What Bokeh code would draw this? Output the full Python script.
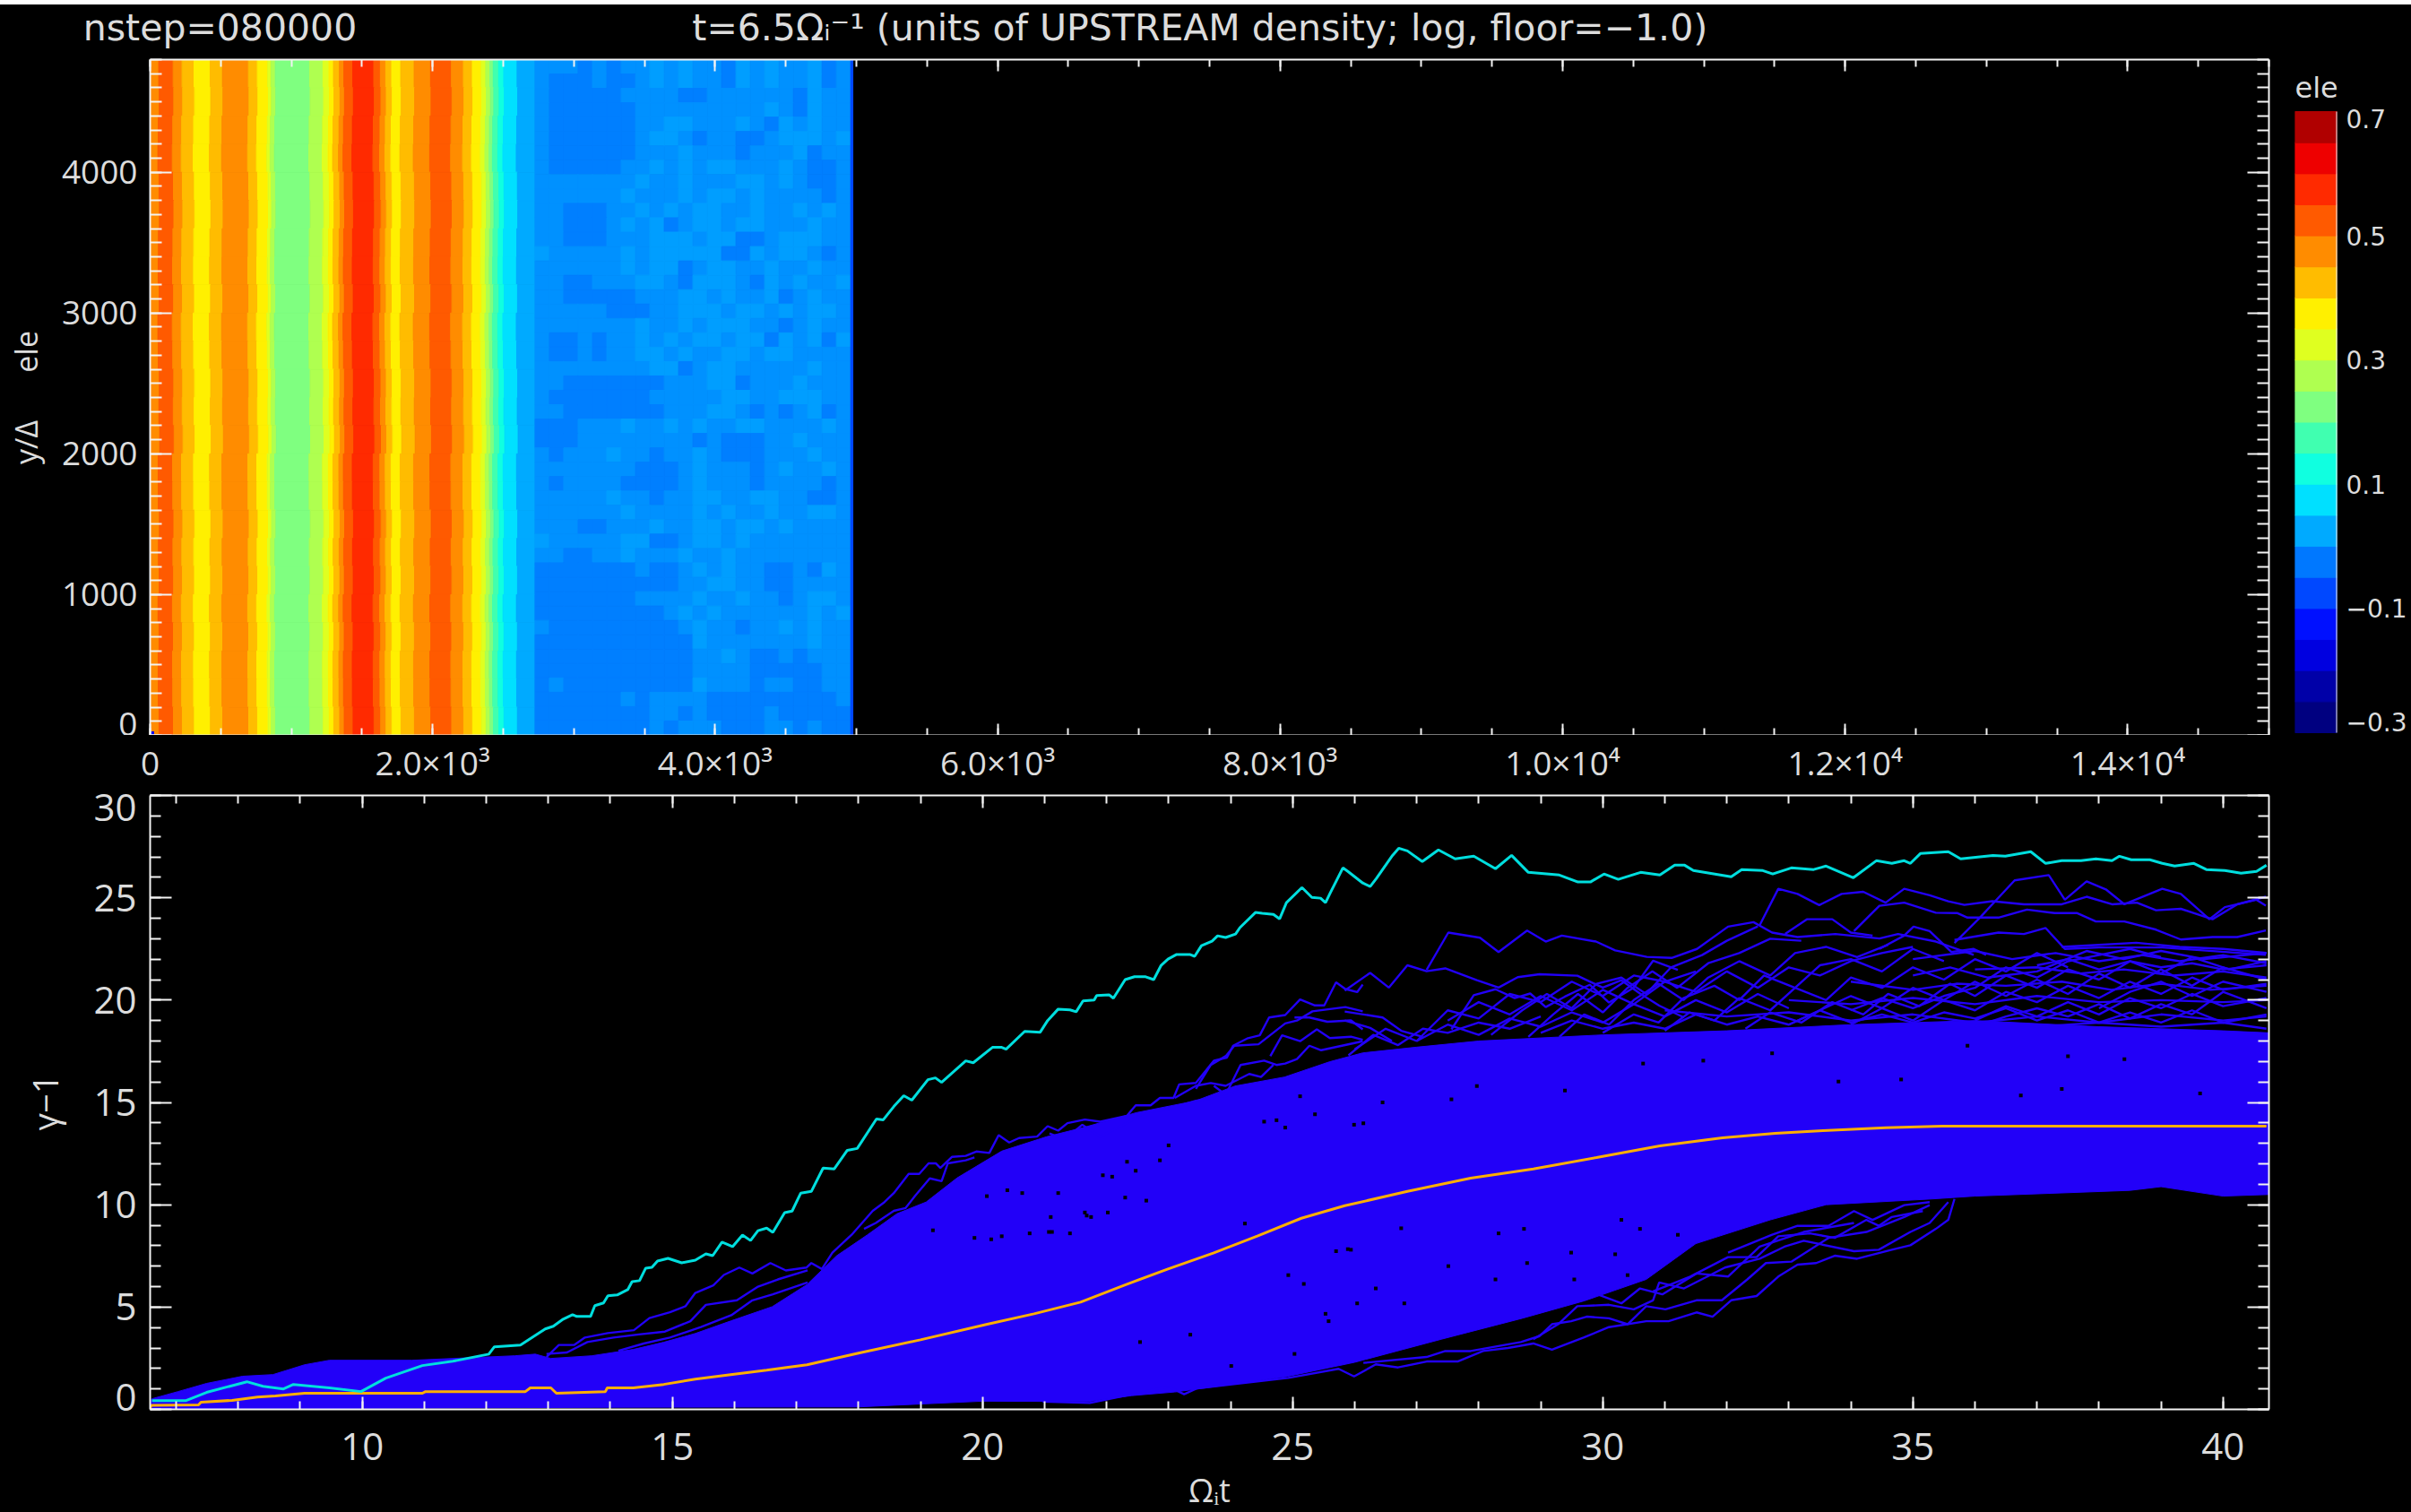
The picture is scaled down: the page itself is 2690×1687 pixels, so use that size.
from bokeh.plotting import figure
from bokeh.layouts import column, row
from bokeh.models import Range1d, LinearAxis, FixedTicker, Label, ColumnDataSource
from bokeh.embed import file_html
from bokeh.resources import INLINE

# ---------- colour table (bottom to top of the colour bar) ----------
cbar_edges = [-0.30,-0.25,-0.20,-0.15,-0.10,-0.05,0.00,0.05,0.10,0.15,0.20,0.25,0.30,0.35,0.40,0.45,0.50,0.55,0.60,0.65,0.70]
cbar_colors = ["#000080","#0000a8","#0000e0","#0010ff","#0048ff","#0078ff","#00aaff","#00e0ff","#10ffe0","#40ffb0",
               "#7fff80","#afff50","#dfff20","#fff000","#ffbc00","#ff8c00","#ff5a00","#ff2a00","#ee0000","#b00000"]
cbar_label_values = [-0.3,-0.1,0.1,0.3,0.5,0.7]
cbar_label_texts = ["−0.3","−0.1","0.1","0.3","0.5","0.7"]

# ---------- top panel: density bands (left edge in x/Delta, colour level) ----------
band_x = [0,61,163,226,311,425,512,696,759,833,855,886,1129,1224,1266,1298,1340,1372,1435,1583,1630,1668,1710,1774,1869,
          1985,2133,2218,2281,2344,2376,2405,2429,2467,2503,2598,2725]
band_level = [15,16,15,14,13,14,15,14,13,12,11,10,11,12,13,14,15,16,17,16,15,14,13,14,15,16,15,14,13,12,11,10,9,8,7,6]
band_wobble = [0,4,-3,-6,2,5,-2,-4,3,-6,-3,4,1,7,-4,-3,5,-2,3,-5,2,-4,-3,2]
noise_x0, noise_x1, edge_x1 = 2725, 4960, 4975
noise_rows = [
"1112121101011201011021","1222122101011201011021","1222221111221111112011","1222222111111111012011",
"1222222110011101201011","1222222100121122100010","1222222111011121110211","1222221101010011101221",
"1111111011011100101221","1111110111010010111121","1122211010100110110101","1122210102100100111011",
"1122211100010022100011","0111110100000220100121","1111110100210011011011","1122111001200012010110",
"1122222111001011021011","1111122211000100101001","1111111011010001121011","1221211010100100201020",
"1221211001011001001111","1111111100210011111011","1122222221110021110111","1222222211111001100011",
"1122222221110012121021","2221110110101100111101","2221111111121222110111","1211101121101222111011",
"1111111222101112101101","1211112222101112111121","1111101121100110011221","1111110111101011011001",
"1112211101100100101111","0111110022100101111111","1122110111011011111111","2222222122101011221201",
"2222222222110011221111","2222222111101101121001","2222222221010111111010","1222222222101121101011",
"2222222222201111111011","2222222222211012212111","2222222222211112222211","2122222222201112112211",
"2222221211112222222221","2222222211212222122222","2222222212111222112122"]
noise_colors = ["#009eff","#0091ff","#007fff"]

top_x_ticks = [0,2000,4000,6000,8000,10000,12000,14000]
top_x_labels = ["0","2.0×10³","4.0×10³","6.0×10³","8.0×10³","1.0×10⁴","1.2×10⁴","1.4×10⁴"]
top_y_ticks = [0,1000,2000,3000,4000]
title_x = [495, 7432]
title_texts = ["nstep=080000", "t=6.5Ωᵢ⁻¹ (units of UPSTREAM density; log, floor=−1.0)"]

# ---------- bottom panel ----------
bot_x_ticks = [10,15,20,25,30,35,40]
bot_y_ticks = [0,5,10,15,20,25,30]

cyan_t = [6.61,7.16,7.49,8.14,8.40,8.73,8.89,9.47,9.98,10.38,10.97,11.46,12.04,12.13,12.55,12.95,13.08,13.24,13.39,13.46,13.68,13.75,13.89,13.96,14.11,14.28,14.35,14.47,14.57,14.67,14.76,14.93,15.15,15.37,15.54,15.65,15.80,15.97,16.13,16.26,16.38,16.52,16.62,16.81,16.93,17.07,17.24,17.43,17.61,17.82,17.98,18.29,18.40,18.57,18.73,18.86,19.12,19.24,19.34,19.73,19.85,20.16,20.31,20.38,20.68,20.93,21.05,21.22,21.41,21.51,21.62,21.80,21.84,22.04,22.11,22.30,22.45,22.63,22.76,22.88,22.99,23.13,23.34,23.42,23.53,23.70,23.79,23.92,24.08,24.15,24.40,24.51,24.69,24.79,24.90,25.15,25.31,25.45,25.53,25.60,25.81,25.89,26.13,26.25,26.35,26.61,26.71,26.85,27.09,27.35,27.62,27.92,28.27,28.53,28.80,29.30,29.60,29.80,30.02,30.25,30.61,30.92,31.16,31.32,31.46,32.07,32.24,32.58,32.74,33.04,33.40,33.60,34.04,34.41,34.66,34.86,34.96,35.12,35.57,35.77,36.29,36.49,36.90,37.14,37.40,37.71,37.95,38.21,38.33,38.52,38.82,39.02,39.22,39.53,39.73,40.03,40.29,40.54,40.70]
cyan_y = [0.43,0.43,0.83,1.35,1.13,1.0,1.22,1.05,0.87,1.53,2.14,2.35,2.7,3.06,3.14,3.93,4.06,4.41,4.63,4.54,4.54,5.07,5.2,5.55,5.59,5.85,6.24,6.29,6.9,6.94,7.25,7.38,7.16,7.29,7.6,7.51,8.17,7.95,8.52,8.25,8.73,8.86,8.65,9.61,9.69,10.57,10.65,11.79,11.75,12.66,12.75,14.19,14.15,14.8,15.33,15.11,16.11,16.2,15.98,17.03,16.94,17.69,17.69,17.6,18.47,18.43,19.0,19.56,19.52,19.43,19.96,20.0,20.22,20.26,20.09,21.0,21.14,21.14,21.0,21.7,22.0,22.23,22.23,22.14,22.66,22.88,23.14,23.06,23.23,23.54,24.28,24.24,24.19,23.97,24.76,25.5,25.02,24.98,24.76,25.2,26.46,26.29,25.72,25.55,25.94,27.07,27.42,27.29,26.77,27.34,26.9,27.03,26.42,27.07,26.24,26.11,25.77,25.77,26.16,25.9,26.24,26.11,26.59,26.59,26.33,26.03,26.38,26.33,26.16,26.46,26.38,26.55,25.98,26.81,26.68,26.81,26.68,27.16,27.25,26.9,27.07,27.03,27.25,26.68,26.81,26.81,26.9,26.81,27.03,26.86,26.86,26.68,26.55,26.68,26.38,26.33,26.2,26.29,26.59]

orange_t = [6.57,6.60,7.36,7.40,7.90,8.31,8.60,9.07,10.97,11.02,12.63,12.71,13.04,13.13,13.92,13.95,14.37,14.86,15.37,15.94,16.52,17.17,18.0,19.0,20.06,20.83,21.58,22.29,22.99,23.72,24.43,25.14,25.84,26.85,27.87,28.88,29.90,30.92,31.93,32.78,33.55,34.56,35.47,40.70]
orange_y = [0.0,0.2,0.22,0.35,0.44,0.6,0.66,0.79,0.79,0.87,0.87,1.05,1.05,0.79,0.87,1.05,1.05,1.22,1.48,1.7,1.92,2.18,2.75,3.4,4.15,4.67,5.24,6.07,6.86,7.64,8.47,9.34,9.95,10.65,11.3,11.75,12.31,12.88,13.27,13.49,13.62,13.76,13.84,13.84]

solid_top_t = [6.58,6.61,7.03,7.49,8.07,8.56,9.07,9.47,10.8,12.46,12.79,13.04,13.7,14.37,14.86,15.37,15.94,16.61,17.17,17.65,18.14,18.62,19.09,19.59,20.31,21.03,21.61,22.48,23.43,24.07,24.87,25.6,26.13,27,28,30,32,34,36,38,40,40.74]
solid_top_y = [0.4,0.52,0.87,1.27,1.62,1.7,2.18,2.4,2.4,2.62,2.7,2.49,2.62,2.93,3.28,3.71,4.32,5.02,6.1,7.51,8.52,9.56,10.13,11.31,12.62,13.32,13.76,14.5,15.07,15.8,16.24,16.99,17.42,17.7,18.0,18.3,18.5,18.8,19.0,18.7,18.5,18.4]
solid_low_t = [6.58,10,14,18,20,21.7,22.4,23.1,23.6,24.9,26,27.4,28.7,29.7,30.7,31.5,32.7,33.6,35.3,36,38.5,39,40,40.74]
solid_low_y = [0,0.05,0.1,0.12,0.4,0.38,0.67,0.85,1.05,1.6,2.3,3.43,4.45,5.3,6.35,8.1,9.26,10,10.28,10.42,10.7,10.88,10.42,10.5]

line01_t = [12.97,13.17,13.42,13.59,13.96,14.38,14.63,14.96,15.21,15.37,15.66,15.83,16.08,16.29,16.58,16.83,17.16,17.24,17.41,17.58,17.89,18.23,18.42,18.57,18.81,18.98,19.13,19.25,19.32,19.51,19.73,19.9,20.11,20.26,20.43,20.59,20.88,21.05,21.22,21.37,21.65,21.9,22.33,22.47,22.71,22.86,23.08,23.17,23.44,23.73,23.94,24.04,24.28,24.47,24.62,24.88,25.12,25.36,25.51,25.7,25.85,26.04,26.13]
line01_y = [2.56,3.15,3.15,3.51,3.73,3.87,4.46,4.75,5.04,5.69,6.06,6.57,6.93,6.64,7.15,6.79,6.93,7.15,6.86,7.66,8.53,9.7,10.13,10.57,11.51,11.51,12.02,12.02,11.8,12.34,12.39,12.6,12.53,13.4,13.04,13.26,13.33,13.84,13.62,13.99,14.16,14.06,14.35,14.86,14.86,15.22,15.22,15.88,15.95,17.04,17.19,17.77,18.14,18.28,19.15,19.27,20.03,19.74,19.74,20.87,20.54,20.39,20.76]
line02_t = [12.97,13.3,13.63,14.05,14.46,14.88,15.29,15.54,16.04,16.37,16.7,17.18]
line02_y = [2.71,2.78,3.29,3.51,3.66,3.8,4.31,5.11,5.33,5.98,6.35,6.79]
line03_t = [14.13,14.54,14.96,15.46,15.95,16.29,16.62,17.18]
line03_y = [2.86,3.22,3.51,4.02,4.6,5.33,5.62,6.2]
line04_t = [18.09,18.28,18.57,18.76,18.91,19.15,19.34,19.44,19.73,19.87]
line04_y = [8.82,9.11,9.7,9.84,10.42,11.29,11.15,12.02,12.17,12.31]
line05_t = [23.44,23.68,23.92,24.06,24.45,24.88,25.07,25.32,25.85,26.13]
line05_y = [15.66,16.83,17.26,17.77,17.84,18.86,19.0,19.45,19.66,19.45]
line06_t = [23.73,23.92,24.16,24.54,24.74,24.88,25.07,25.27,25.46,26.13]
line06_y = [15.81,15.37,16.83,17.04,16.83,16.9,17.12,17.77,17.55,17.99]
line07_t = [24.64,24.83,25.12,25.39,25.6,25.94,26.13]
line07_y = [17.26,18.28,17.99,18.57,18.14,18.21,18.06]
line08_t = [25.03,25.27,25.56,25.94,26.13]
line08_y = [19.15,19.15,18.94,19.01,18.57]
line09_t = [23.1,23.44,23.68,23.92,24.3,24.49,24.69]
line09_y = [15.22,15.81,15.95,15.81,16.39,16.24,16.83]
line10_t = [21.08,21.32,21.61,21.9,22.28,22.62,22.95,23.44,23.92,24.21]
line10_y = [13.48,13.19,13.91,13.33,13.91,14.5,14.64,15.08,15.3,15.66]
line11_t = [32.53,32.83,33.14,33.49,33.85,34.2,34.56,34.86,35.27,35.57,35.83,36.28,36.79,37.4,37.8,38.21,38.61,38.92,39.32,39.83,40.23,40.69]
line11_y = [23.66,25.44,25.19,24.64,25.19,25.29,24.76,25.44,25.12,24.83,24.65,24.83,24.68,24.68,25.05,24.68,24.76,24.39,24.46,23.95,24.68,25.05]
line12_t = [34.05,34.46,34.86,35.37,35.72,35.88,36.38,36.84,37.29,37.65,37.95,38.41,38.92,39.32,39.83,40.23,40.69]
line12_y = [23.37,24.61,24.76,24.27,24.25,24.03,24.03,24.42,24.25,24.25,23.84,23.84,23.44,22.96,23.08,23.08,23.4]
line13_t = [35.67,36.08,36.64,37.19,37.45,37.8,38.11,38.41,39.02,39.32,39.78,40.03,40.54,40.69]
line13_y = [22.79,24.03,25.85,26.11,24.9,25.8,25.41,24.68,25.44,25.19,23.95,24.54,24.9,24.61]
line14_t = [27.16,27.51,28.02,28.32,28.78,29.08,29.34,29.89,30.2,30.71,31.11,31.52,32.02,32.43,32.73,33.14,33.75,34.46,34.76,35.37,35.98]
line14_y = [21.48,23.3,23.05,22.35,23.4,22.86,23.15,22.86,22.43,22.11,22.06,22.5,23.59,23.81,23.3,23.08,23.23,23.01,23.23,22.86,22.21]
line15_t = [25.84,26.25,26.55,26.85,27.16,27.46,27.97,28.32,28.63,28.98,29.59,30.0,30.3,30.6,30.91,31.31]
line15_y = [20.46,21.33,20.61,21.7,21.41,21.55,20.97,20.61,21.12,21.26,21.19,20.61,20.97,20.32,19.73,19.15]
line16_t = [27.56,27.92,28.27,28.58,28.83,29.08,29.39,29.79,30.1,30.5,30.81,31.21]
line16_y = [18.57,20.24,20.53,20.1,20.32,19.66,20.17,20.75,19.88,20.61,21.92,21.48]
line17_t = [32.94,33.29,33.7,34.0,34.35]
line17_y = [23.23,23.95,23.95,23.3,23.15]
line18_t = [34.46,34.86,35.01,35.27,35.62,35.98,36.18]
line18_y = [22.5,23.15,23.59,23.37,22.35,22.5,22.21]
line19_t = [35.67,36.38,36.79,37.14,37.45,38.0,39.02,40.69]
line19_y = [22.94,23.3,23.23,23.52,22.5,22.57,22.57,22.21]
# strands rising out of the solid band, and the web above it
line20_t = [28.2,28.7,29.1,29.5,29.9,30.3,30.7,31.1,31.6,32.0,32.5]
line20_y = [18.3,19.5,20.3,19.6,20.8,21.1,20.3,21.6,22.2,22.9,23.6]
line21_t = [28.8,29.2,29.6,30,30.4,30.8,31.2,31.7,32.2,32.7,33.2]
line21_y = [18.2,19.3,20.3,19.4,20.6,21.4,20.6,21.8,22.3,23.0,22.9]
line22_t = [29.3,29.7,30.1,30.5,30.9,31.3,31.7,32.2,32.7,33.1,33.6,34.1,34.6]
line22_y = [18.2,19.3,18.8,20.0,20.8,20.0,21.1,21.9,21.2,22.3,22.6,22.1,22.7]
line23_t = [30,30.5,30.9,31.3,31.8,32.2,32.6,33.1,33.5,34,34.5,35,35.5]
line23_y = [18.4,19.3,18.9,20.1,20.7,20.0,21.2,20.6,21.7,22.0,21.4,22.5,21.9]
line24_t = [31,31.4,31.8,32.2,32.7,33.1,33.6,34,34.5,35,35.5,36,36.5,37,37.5]
line24_y = [18.5,19.4,19.0,20.1,19.5,20.6,20.0,21.1,20.6,21.6,21.0,22.0,21.4,22.3,21.6]
line25_t = [32.3,32.7,33.2,33.7,34.2,34.6,35.1,35.6,36,36.5,37,37.5,38,38.5,39,39.5,40.1,40.7]
line25_y = [18.6,19.4,18.9,19.9,19.3,20.3,19.7,20.8,20.2,21.2,20.6,21.5,21.0,21.9,21.3,22.1,21.5,21.9]
line26_t = [34,34.5,35,35.5,36,36.5,37,37.5,38,38.5,39,39.5,40,40.7]
line26_y = [18.8,19.6,19.0,20.0,19.5,20.4,19.9,20.7,20.1,20.9,20.3,21.1,20.5,20.8]
line27_t = [36,36.5,37,37.5,38,38.5,39,39.5,40,40.7]
line27_y = [19.0,19.7,19.2,19.9,19.3,20.1,19.6,20.3,19.7,20.1]
line28_t = [35,36,36.6,37.3,38,38.7,39.3,40,40.7]
line28_y = [22.0,22.4,22.0,22.3,21.9,22.2,21.9,22.2,21.8]
line29_t = [36,37,37.7,38.4,39.2,40,40.7]
line29_y = [21.5,21.6,21.3,21.5,21.2,21.4,21.1]
line30_t = [34,35,35.7,36.5,37.4,38.2,39,39.8,40.7]
line30_y = [20.9,20.5,20.8,20.7,20.9,20.5,20.8,20.5,20.7]
line31_t = [33,34,35,36,37,38,39,40,40.7]
line31_y = [20.0,19.8,20.1,19.8,20.2,19.9,20.0,19.9,20.0]
line32_t = [31,32,33,34,35,36,37,38,39,40,40.7]
line32_y = [19.5,19.2,19.4,19.0,19.3,18.9,19.2,18.9,19.3,19.0,19.2]
line33_t = [35,35.6,36.2,37,37.8,38.4,39,39.7,40.7]
line33_y = [21.2,21.6,21.1,21.4,22.4,22.0,22.4,22.0,22.3]
line34_t = [37,38,39,40,40.7]
line34_y = [18.7,18.9,18.7,18.9,18.6]
line35_t = [37.4,38,38.6,39.3,40,40.7]
line35_y = [22.6,22.7,22.8,22.6,22.5,22.3]
line36_t = [25.9,26.3,26.7,27.1,27.5,28,28.5,29]
line36_y = [17.3,18.3,17.8,18.6,18.4,18.9,18.6,19.2]
line37_t = [25.84,26.45,26.75,27.1]
line37_y = [19.44,19.15,18.5,18.2]
line38_t = [25.84,26.25,26.6]
line38_y = [19.0,18.64,18.0]
# strands below the solid band
line39_t = [20.97,21.73,23.0,23.25,23.46,24.93,25.74,25.99,26.34,26.7,27.16,27.66,28.07,28.47,28.88,29.18,29.69,30.1,30.7,31.06,31.51,31.77,32.07,32.48,32.83,33.14,33.44,33.74,34.1,34.66,34.96,35.37,35.57,35.67]
line39_y = [0.38,0.31,1.11,0.74,1.03,1.54,1.98,1.61,2.2,2.05,2.34,2.34,2.85,3.0,3.22,2.92,3.51,4.02,4.31,4.31,4.74,4.53,5.33,5.54,6.49,7.07,7.15,7.51,7.36,7.8,8.02,8.82,9.26,10.28]
line40_t = [26.14,27.16,27.46,27.87,28.68,28.98,29.18,29.49,29.74,30.1,30.4,30.7,31.01,31.51,31.92,32.33,32.63,33.04,33.64,34.25,34.86,35.27]
line40_y = [2.27,2.56,2.85,2.85,3.29,3.58,4.16,4.31,4.53,4.45,4.16,5.04,4.89,5.33,5.33,6.35,7.15,7.22,8.38,8.67,9.4,9.98]
line41_t = [28.88,29.28,29.59,30.1,30.5,30.81,30.91,31.31,31.97,32.53,32.93,33.24,34.05,34.45,34.96,35.27,35.57]
line41_y = [3.43,4.16,5.04,5.11,4.89,5.33,6.2,5.91,6.93,7.36,7.95,8.24,7.73,7.8,8.67,9.11,10.13]
line42_t = [30.81,31.41,32.02,32.48,32.83,33.34,33.74,34.25,34.45,34.66,35.16]
line42_y = [5.76,6.49,7.44,7.44,8.46,8.6,8.38,9.26,8.97,9.4,9.69]
line43_t = [32.02,32.73,33.14,33.64,34.05,34.35,34.86,35.27]
line43_y = [7.66,8.53,8.97,8.97,9.69,9.26,9.98,10.13]
line44_t = [29.79,30.3,30.6,30.96,31.51,32.02,32.53,33.24,34.05]
line44_y = [5.76,5.18,5.91,5.62,6.64,6.49,7.95,8.67,9.11]
line45_t = [27,27.5,28,28.5,29,29.5,30,30.5,31,31.5,32,32.5,33]
line45_y = [18.0,18.8,18.3,19.1,18.7,19.4,18.9,19.8,19.2,20.0,19.4,20.3,19.6]
line46_t = [29,29.5,30,30.5,31,31.5,32,32.5,33,33.5,34,34.5,35]
line46_y = [18.4,19.0,18.6,18.9,18.6,19.3,18.8,19.2,18.8,19.5,18.9,19.3,18.9]
line47_t = [33,33.5,34,34.5,35,35.5,36,36.5,37,37.5,38,38.5,39,39.5,40,40.7]
line47_y = [18.8,19.5,20.2,19.6,20.6,20.0,20.9,20.2,21.0,20.3,21.3,20.6,21.5,20.7,21.6,21.0]
line48_t = [35,35.5,36,36.5,37,37.5,38,38.5,39,39.5,40,40.7]
line48_y = [18.9,19.4,19.1,19.6,19.0,19.5,18.9,19.4,18.9,19.5,18.9,19.3]
line49_t = [37,37.5,38,38.5,39,39.5,40,40.7]
line49_y = [21.7,22.0,21.5,21.9,21.6,21.8,21.5,21.7]
line50_t = [27.5,28,28.5,29,29.5,30,30.5,31,31.5,32,32.5,33,33.5,34,34.5,35]
line50_y = [19.0,19.9,19.3,20.2,19.5,20.5,19.8,20.9,20.4,21.4,20.6,21.6,21.2,21.9,22.3,22.6]
line51_t = [26,26.5,27,27.5,28,28.5,29,29.5,30,30.5,31,31.5]
line51_y = [17.6,18.6,18.0,19.5,19.1,20.3,19.9,20.9,20.2,21.2,20.9,21.4]
line52_t = [38,38.5,39,39.5,40,40.7]
line52_y = [19.6,20.4,20.9,20.2,20.9,20.4]
line53_t = [34,34.5,35,35.5,36,36.5,37,37.5,38,38.5,39]
line53_y = [19.5,20.1,19.6,20.2,20.6,21.6,21.1,21.9,22.2,22.5,22.1]
line54_t = [36,36.5,37,37.5,38,38.5,39,39.5,40,40.7]
line54_y = [18.7,19.2,19.6,19.2,19.8,19.1,19.8,19.3,20.4,19.6]

speck_t = [24.54,24.74,25.12,25.36,25.99,24.88,23.0,22.86,22.33,22.47,21.94,22.09,20.64,21.22,20.4,20.07,22.3,22.64,21.1,21.65,21.75,22.02,19.2,19.87,20.14,20.76,21.12,21.41,24.23,25.7,25.89,34.81,33.8,36.74,39.63,38.41,37.4,27.56,26.45,27.97,29.39,30.65,31.62,32.73,37.5,35.88,26.14,24.93,25.18,26.34,26.8,26.04,25.53,27.51,25.94,28.78,28.27,26.75,28.73,30.3,28.32,21.07,20.31,21.68,29.49,30.2,30.6,22.54,23.35,24.01,25.58,25.03,29.54,30.4,31.21]
speck_y = [14.06,14.13,15.3,14.42,13.91,13.77,12.9,12.17,12.1,11.66,11.44,11.37,10.57,10.57,10.71,10.42,10.35,10.2,9.4,9.62,9.4,9.62,8.75,8.38,8.31,8.6,8.67,8.6,9.08,7.73,7.83,16.12,16.02,15.34,15.44,17.11,15.66,15.15,15.0,15.8,15.58,16.9,17.04,17.4,17.26,17.77,13.98,6.56,6.13,5.91,5.18,5.18,4.67,7.0,7.8,7.15,6.35,8.85,8.82,9.26,8.6,8.67,8.46,9.47,7.66,7.58,8.82,3.29,3.65,2.12,4.31,2.71,6.35,6.56,8.53]

blue_lines = [(line01_t,line01_y),(line02_t,line02_y),(line03_t,line03_y),(line04_t,line04_y),(line05_t,line05_y),
 (line06_t,line06_y),(line07_t,line07_y),(line08_t,line08_y),(line09_t,line09_y),(line10_t,line10_y),(line11_t,line11_y),
 (line12_t,line12_y),(line13_t,line13_y),(line14_t,line14_y),(line15_t,line15_y),(line16_t,line16_y),(line17_t,line17_y),
 (line18_t,line18_y),(line19_t,line19_y),(line20_t,line20_y),(line21_t,line21_y),(line22_t,line22_y),(line23_t,line23_y),
 (line24_t,line24_y),(line25_t,line25_y),(line26_t,line26_y),(line27_t,line27_y),(line28_t,line28_y),(line29_t,line29_y),
 (line30_t,line30_y),(line31_t,line31_y),(line32_t,line32_y),(line33_t,line33_y),(line34_t,line34_y),(line35_t,line35_y),
 (line36_t,line36_y),(line37_t,line37_y),(line38_t,line38_y),(line39_t,line39_y),(line40_t,line40_y),(line41_t,line41_y),
 (line42_t,line42_y),(line43_t,line43_y),(line44_t,line44_y),(line45_t,line45_y),(line46_t,line46_y),(line47_t,line47_y),
 (line48_t,line48_y),(line49_t,line49_y),(line50_t,line50_y),(line51_t,line51_y),(line52_t,line52_y),(line53_t,line53_y),
 (line54_t,line54_y)]

# ---------- styling ----------
WHITE = "#f2f2f2"
TXT = "#dcdcdc"
AXF = "Open Sans"
TIF = "DejaVu Sans"
BLUE = "#2200f8"

def mk(fw, fh, l, r, t, b, xr, yr):
    p = figure(width=None, height=None, frame_width=fw, frame_height=fh,
               min_border_left=l, min_border_right=r, min_border_top=t, min_border_bottom=b,
               x_range=Range1d(*xr), y_range=Range1d(*yr), toolbar_location=None, output_backend="svg",
               background_fill_color="black", border_fill_color="black", outline_line_color=None)
    p.xgrid.visible = False
    p.ygrid.visible = False
    return p

def style(ax, major, minor, mj, mn):
    ax.ticker = FixedTicker(ticks=major, minor_ticks=minor)
    ax.major_tick_in, ax.major_tick_out = mj, 0
    ax.minor_tick_in, ax.minor_tick_out = mn, 0
    ax.axis_line_color = WHITE
    ax.axis_line_width = 2
    ax.major_tick_line_color = WHITE
    ax.minor_tick_line_color = WHITE
    ax.major_tick_line_width = 2
    ax.minor_tick_line_width = 2
    ax.major_label_overrides = {v: "" for v in major}
    ax.major_label_standoff = 0

def all_axes(p, xmaj, xmin, xl, xs, ymaj, ymin, yl, ys):
    p.add_layout(LinearAxis(), "above")
    p.add_layout(LinearAxis(), "right")
    for a in p.below + p.above:
        style(a, xmaj, xmin, xl, xs)
    for a in p.left + p.right:
        style(a, ymaj, ymin, yl, ys)

def text_axis(p, side, ticks, texts, size, standoff, font=AXF, **kw):
    ax = LinearAxis(ticker=FixedTicker(ticks=ticks, minor_ticks=[]),
                    major_label_overrides=dict(zip(ticks, texts)),
                    major_label_text_font=font, major_label_text_font_size=f"{size}px",
                    major_label_text_color=TXT, major_label_standoff=standoff,
                    axis_line_color=None, major_tick_line_color=None, minor_tick_line_color=None,
                    major_tick_in=0, major_tick_out=0, minor_tick_in=0, minor_tick_out=0, **kw)
    p.add_layout(ax, side)
    return ax

# ---------- top panel ----------
top = mk(2364, 754, 167, 9, 66, 0, (0, 15000), (0, 4800))
row_h = 4800 / len(band_wobble)
q = dict(l=[], r=[], b=[], t=[], c=[])
for i, shift in enumerate(band_wobble):
    yt = 4800 - i * row_h
    for j, lev in enumerate(band_level):
        q["l"].append(band_x[j] + (shift if j else 0))
        q["r"].append(band_x[j + 1] + (shift if j + 1 < len(band_level) else 0))
        q["b"].append(yt - row_h); q["t"].append(yt); q["c"].append(cbar_colors[lev])
cw = (noise_x1 - noise_x0) / len(noise_rows[0])
ch = 4800 / len(noise_rows)
for i, s in enumerate(noise_rows):
    yt = 4800 - i * ch
    for j, v in enumerate(s):
        q["l"].append(noise_x0 + j * cw); q["r"].append(noise_x0 + (j + 1) * cw)
        q["b"].append(yt - ch); q["t"].append(yt); q["c"].append(noise_colors[int(v)])
q["l"].append(noise_x1); q["r"].append(edge_x1); q["b"].append(0); q["t"].append(4800); q["c"].append(cbar_colors[4])
top.quad(left="l", right="r", bottom="b", top="t", fill_color="c", line_color="c", line_width=1, source=ColumnDataSource(q))
top.scatter([0], [0], marker="square", size=9, fill_color="#0000e8", line_color=None)
all_axes(top, top_x_ticks, list(range(0, 15001, 500)), 13, 8, top_y_ticks, list(range(0, 4801, 100)), 24, 13)
# y tick texts; the lowest one sits a little above its tick, as in the original
top_y_label_pos = [64] + top_y_ticks[1:]
ya = text_axis(top, "left", top_y_label_pos, [str(v) for v in top_y_ticks], 37, 14,
               axis_label="y/Δ\u00a0\u00a0\u00a0\u00a0\u00a0\u00a0ele", axis_label_text_font=AXF, axis_label_text_font_size="34px",
               axis_label_text_color=TXT, axis_label_standoff=14, axis_label_text_font_style="normal")
text_axis(top, "above", title_x, title_texts, 41, 12, font=TIF)

# ---------- colour bar: same frame as the top panel so that the row keeps its alignment ----------
cb_lo = -0.3 - 3 / 693
cb_hi = 0.7 + 58 / 693
cb = mk(47, 754, 20, 83, 66, 0, (0, 1), (cb_lo, cb_hi))
cb.quad(left=0, right=1, bottom=cbar_edges[:-1], top=cbar_edges[1:], fill_color=cbar_colors, line_color=cbar_colors)
cb.segment([1], [cbar_edges[0]], [1], [cbar_edges[-1]], line_color=WHITE, line_width=2)
cb.xaxis.visible = False
cb.yaxis.visible = False
cbar_label_pos = [-0.2827, -0.1, 0.1, 0.3, 0.5, 0.6885]
text_axis(cb, "right", cbar_label_pos, cbar_label_texts, 28, 10, font=TIF)
cb.add_layout(Label(x=0, y=0.7, y_offset=27, text="ele", text_font=TIF, text_font_size="32px",
                    text_color=TXT, text_align="left", text_baseline="middle"))

# ---------- bottom panel ----------
bot = mk(2364, 685, 167, 159, 67, 115, (6.58, 40.74), (0, 30))
bot.extra_x_ranges = {"top_x": Range1d(0, 15000)}
bot.patch(solid_top_t + solid_low_t[::-1], solid_top_y + solid_low_y[::-1], fill_color=BLUE, line_color=BLUE, line_width=1)
for t, y in blue_lines:
    bot.line(t, y, line_color=BLUE, line_width=2.4)
bot.scatter(speck_t, speck_y, marker="square", size=4, fill_color="black", line_color=None)
bot.line(orange_t, orange_y, line_color="#ffae00", line_width=3)
bot.line(cyan_t, cyan_y, line_color="#00dede", line_width=3)
all_axes(bot, bot_x_ticks, list(range(7, 41)), 14, 9, bot_y_ticks, list(range(0, 31)), 24, 12)
# the upper panel's x tick texts live in the gap between the panels
text_axis(bot, "above", top_x_ticks, top_x_labels, 37, 12, x_range_name="top_x")
text_axis(bot, "below", bot_x_ticks, [str(v) for v in bot_x_ticks], 42, 26,
          axis_label="Ωᵢt", axis_label_text_font=AXF, axis_label_text_font_size="36px",
          axis_label_text_color=TXT, axis_label_standoff=6, axis_label_text_font_style="normal")
bot_y_label_pos = [0.61] + bot_y_ticks[1:-1] + [29.43]
text_axis(bot, "left", bot_y_label_pos, [str(v) for v in bot_y_ticks], 42, 15,
          axis_label="γ−1", axis_label_text_font=AXF, axis_label_text_font_size="38px",
          axis_label_text_color=TXT, axis_label_standoff=25, axis_label_text_font_style="normal")

root = column(row(top, cb, spacing=0), bot, spacing=0)
page = file_html(root, INLINE)
css = ("<style>html,body{margin:0;background:#000;overflow:hidden}"
       "body::before{content:'';position:fixed;top:0;left:0;right:0;height:5px;background:#fff;z-index:9}</style>")
page = page.replace("</head>", css + "</head>", 1)
open("out.html", "w").write(page)
